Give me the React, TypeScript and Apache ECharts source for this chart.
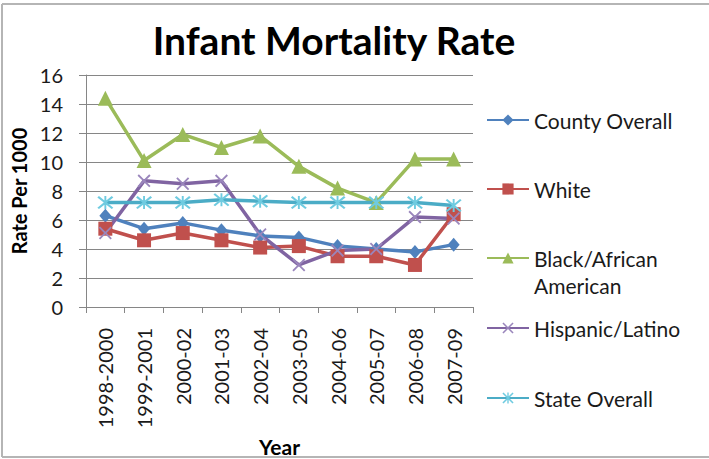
import React, { useEffect, useRef } from "react";
import * as echarts from "echarts";

const categories = ["1998-2000", "1999-2001", "2000-02", "2001-03", "2002-04", "2003-05", "2004-06", "2005-07", "2006-08", "2007-09"];
const countyOverall = [6.3, 5.4, 5.8, 5.3, 4.9, 4.8, 4.2, 4.0, 3.8, 4.3];
const white = [5.4, 4.6, 5.1, 4.6, 4.1, 4.2, 3.5, 3.5, 2.9, 6.4];
const blackAfricanAmerican = [14.4, 10.1, 11.9, 11.0, 11.8, 9.7, 8.2, 7.2, 10.2, 10.2];
const hispanicLatino = [5.1, 8.7, 8.5, 8.7, 5.0, 2.9, 3.9, 4.0, 6.2, 6.1];
const stateOverall = [7.2, 7.2, 7.2, 7.4, 7.3, 7.2, 7.2, 7.2, 7.2, 7.0];

const seriesNames = ["County Overall", "White", "Black/African American", "Hispanic/Latino", "State Overall"];
const legendCenters = [120, 189, 258, 328, 398];

const FONT = "Lato";
const X_PATH = "path://M0,1L1,0L5,4L9,0L10,1L6,5L10,9L9,10L5,6L1,10L0,9L4,5Z";
const AST_PATH = "path://M0,1L1,0L5,4L9,0L10,1L6,5L10,9L9,10L5,6L1,10L0,9L4,5Z M4.4,0L5.6,0L5.6,10L4.4,10Z";

export default function App() {
  const ref = useRef<HTMLDivElement>(null);
  useEffect(() => {
    document.body.style.margin = "0";
    const chart = echarts.init(ref.current!, null, { renderer: "svg" });
    const lineColors = ["#4F81BD", "#C0504D", "#9BBB59", "#8064A2", "#4BACC6"];
    const markColors = ["#4F81BD", "#C0504D", "#9BBB59", "#9A86BC", "#6FCBE0"];
    const symbols = ["diamond", "rect", "triangle", X_PATH, AST_PATH];
    const sizes: any[] = [[12, 14], 14, 15, 13, [16, 13]];
    const data = [countyOverall, white, blackAfricanAmerican, hispanicLatino, stateOverall];
    const LH = 27;
    const legends = seriesNames.map((n, i) => {
      const isBlack = i === 2;
      return {
        show: true,
        orient: "vertical",
        left: 486,
        top: legendCenters[i] - (isBlack ? LH * 1.5 : LH / 2),
        padding: 0,
        itemWidth: 42,
        itemHeight: 14,
        data: [n],
        formatter: (name: string) => (name === "Black/African American" ? "\nBlack/African\nAmerican" : name),
        textStyle: {
          fontFamily: FONT,
          fontSize: 21,
          color: "#1a1a1a",
          lineHeight: LH,
        },
      };
    });
    chart.setOption({
      animation: false,
      backgroundColor: "#ffffff",
      title: {
        text: "Infant Mortality Rate",
        left: 329,
        textAlign: "center",
        top: 15,
        textStyle: { fontFamily: FONT, fontSize: 39, fontWeight: "bold", color: "#000" },
      },
      legend: legends,
      grid: { left: 86, top: 75, width: 387, height: 232, containLabel: false, outerBoundsMode: "none" },
      xAxis: {
        type: "category",
        data: categories,
        boundaryGap: true,
        name: "Year",
        nameLocation: "middle",
        nameGap: 119,
        nameTextStyle: { fontFamily: FONT, fontSize: 21, fontWeight: "bold", color: "#000" },
        axisLine: { lineStyle: { color: "#868686", width: 1 } },
        axisTick: { show: true, alignWithLabel: false, length: 6, lineStyle: { color: "#868686" } },
        axisLabel: { rotate: 90, margin: 21, fontFamily: FONT, fontSize: 20, color: "#1a1a1a", interval: 0 },
        splitLine: { show: false },
      },
      yAxis: {
        type: "value",
        min: 0,
        max: 16,
        interval: 2,
        name: "Rate Per 1000",
        nameLocation: "middle",
        nameGap: 56,
        nameRotate: 90,
        nameTextStyle: { fontFamily: FONT, fontSize: 20, fontWeight: "bold", color: "#000" },
        axisLine: { show: true, lineStyle: { color: "#868686", width: 1 } },
        axisTick: { show: true, length: 7, lineStyle: { color: "#868686" } },
        axisLabel: { margin: 23, fontFamily: FONT, fontSize: 20, color: "#1a1a1a" },
        splitLine: { show: true, lineStyle: { color: "#868686", width: 1 } },
      },
      series: seriesNames.map((n, i) => ({
        name: n,
        type: "line",
        data: data[i],
        symbol: symbols[i],
        symbolSize: sizes[i],
        showAllSymbol: true,
        lineStyle: { color: lineColors[i], width: 3.5 },
        itemStyle: { color: markColors[i] },
        emphasis: { disabled: true },
      })),
      graphic: [
        { type: "line", shape: { x1: 2, y1: 4, x2: 709, y2: 4 }, style: { stroke: "#b5b5b5", lineWidth: 2 } },
        { type: "line", shape: { x1: 2, y1: 4, x2: 2, y2: 457 }, style: { stroke: "#b5b5b5", lineWidth: 2 } },
        { type: "line", shape: { x1: 2, y1: 457, x2: 709, y2: 457 }, style: { stroke: "#b5b5b5", lineWidth: 2 } },
      ],
    });
    return () => chart.dispose();
  }, []);
  return <div ref={ref} style={{ width: 709, height: 459 }} />;
}
